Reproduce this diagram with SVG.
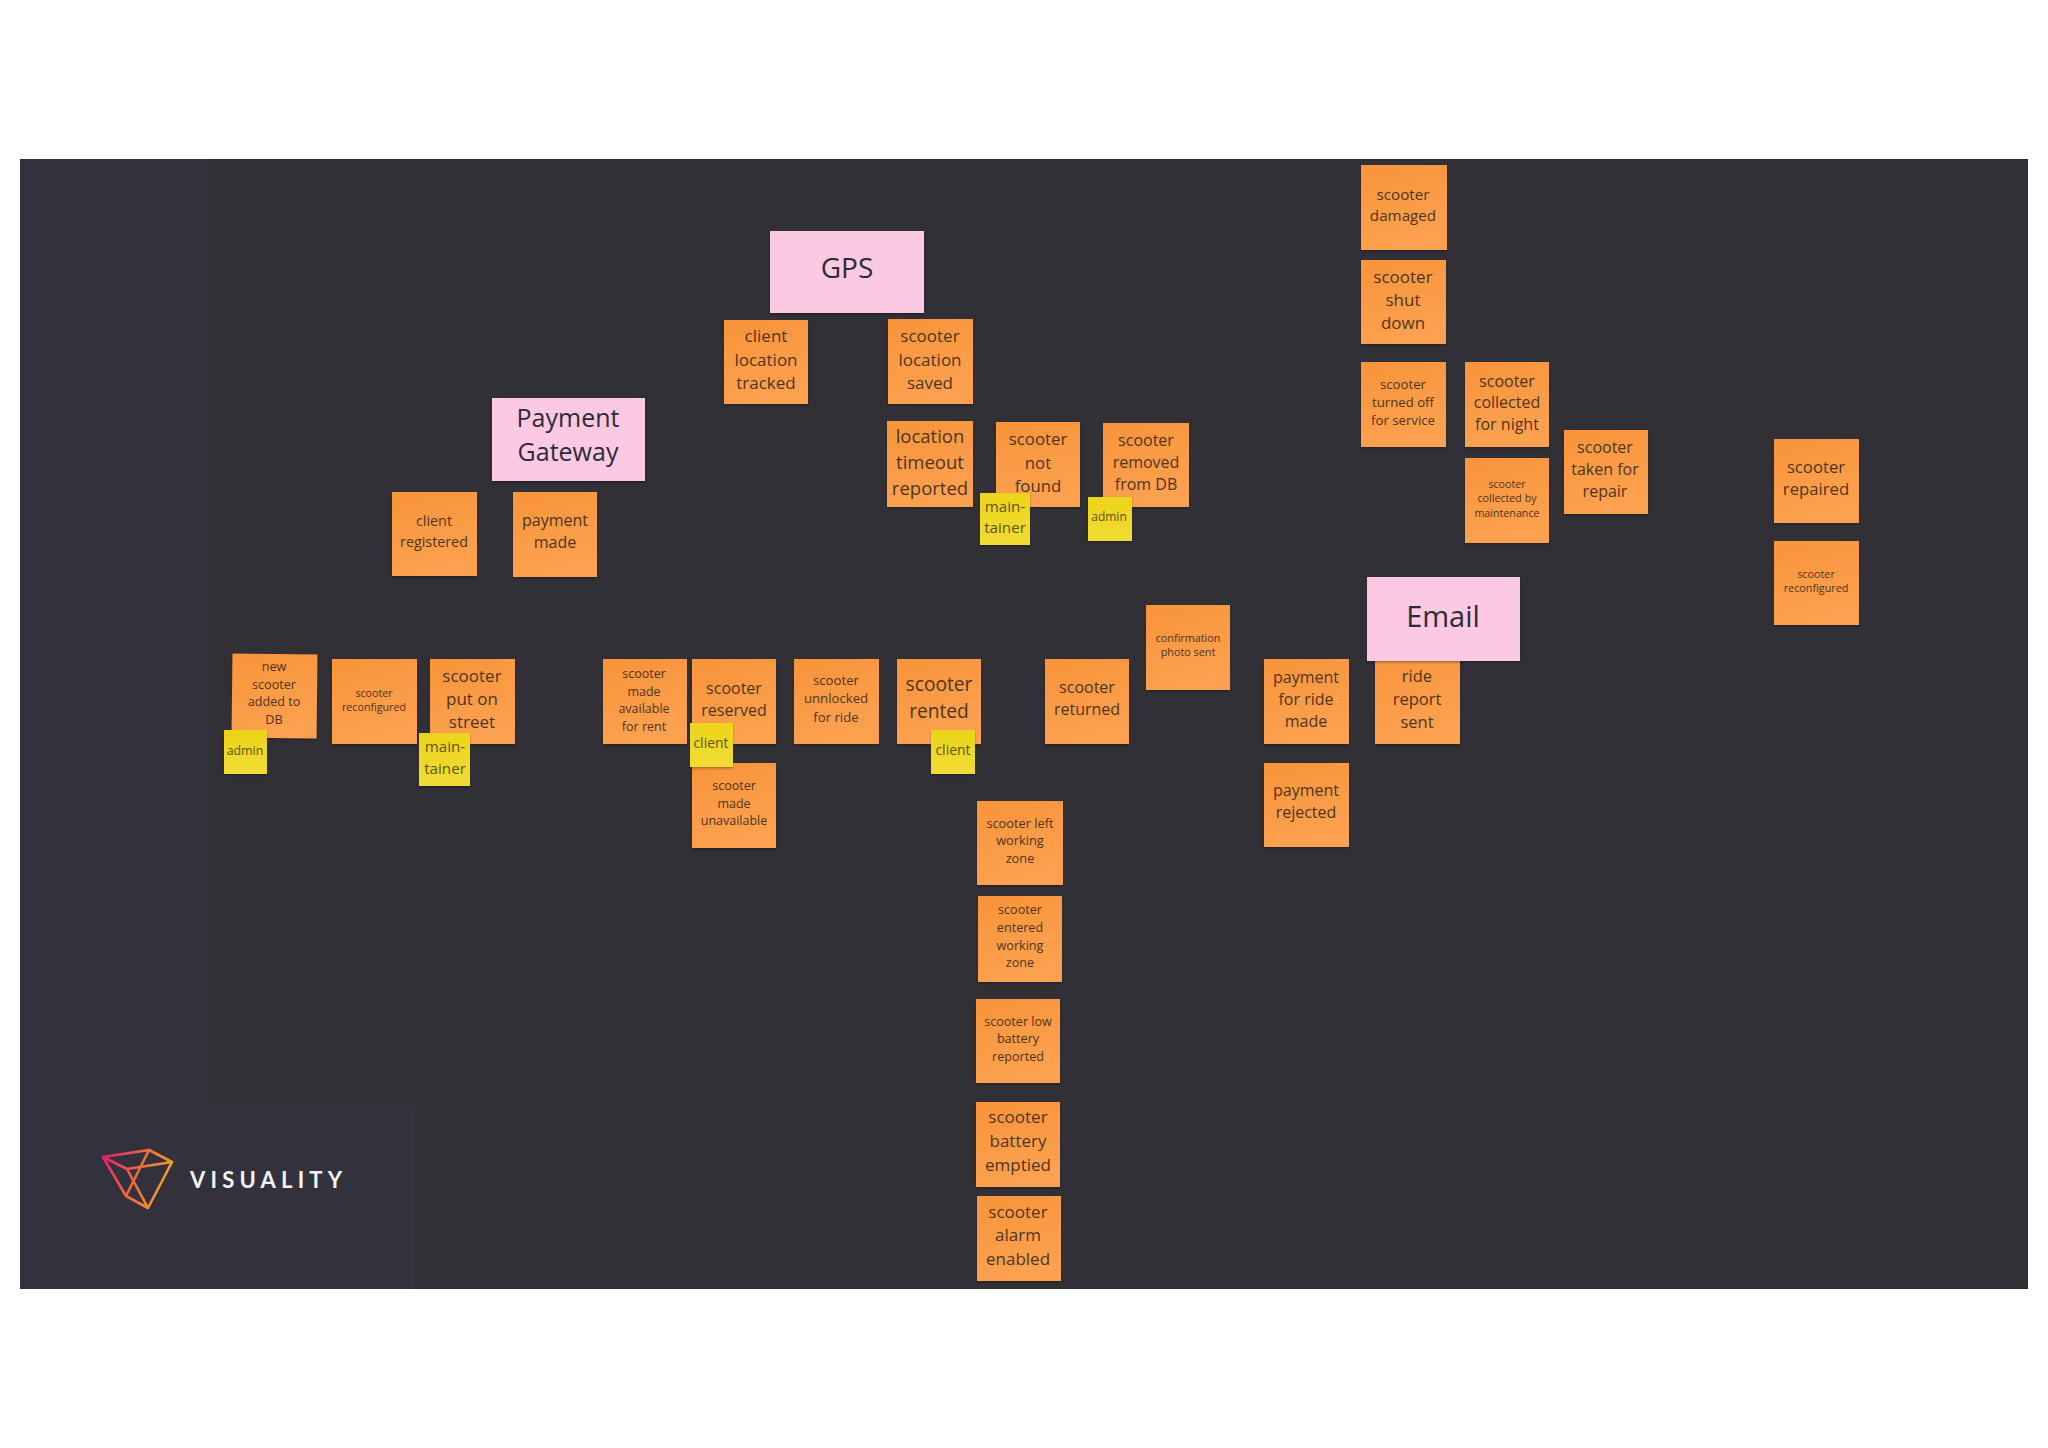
<svg xmlns="http://www.w3.org/2000/svg" width="2048" height="1448" viewBox="0 0 2048 1448">
<style>
text{font-family:"Open Sans","Noto Sans","Liberation Sans",sans-serif;text-anchor:middle;fill:#4f351f}
.o{fill:url(#og);filter:url(#sh)}
.y{fill:url(#yg);filter:url(#sh)}
.p{fill:#fbc9e1;filter:url(#sh)}
.yt{fill:#5e5510}
.pt{fill:#2f2b36}
</style>
<defs>
<linearGradient id="og" x1="0" y1="0" x2="0.3" y2="1"><stop offset="0" stop-color="#f8943a"/><stop offset="1" stop-color="#fca150"/></linearGradient>
<linearGradient id="yg" x1="0" y1="0" x2="0" y2="1"><stop offset="0" stop-color="#ecd41a"/><stop offset="1" stop-color="#f1dc34"/></linearGradient>
<linearGradient id="lg" gradientUnits="userSpaceOnUse" x1="103" y1="1157" x2="173" y2="1180"><stop offset="0" stop-color="#e6206e"/><stop offset="0.5" stop-color="#f0683f"/><stop offset="1" stop-color="#f6a62c"/></linearGradient>
<filter id="sh" x="-10%" y="-10%" width="120%" height="125%"><feDropShadow dx="0" dy="1.5" stdDeviation="1.2" flood-color="#000" flood-opacity="0.3"/></filter>
</defs>
<rect width="2048" height="1448" fill="#fff"/>
<rect x="20" y="159" width="2008" height="1130" fill="#323037"/>
<path d="M20 159H208V1105H415V1289H20Z" fill="#33323c"/>
<g id="connectors"/>
<g id="logo"><path d="M103 1157L149 1150L172 1162L148 1208L126 1196ZM103 1157L127 1169L172 1162M149 1150L126 1196M127 1169L148 1208" fill="none" stroke="url(#lg)" stroke-width="2.6" stroke-linejoin="round"/><text x="266" y="1188" font-size="22" font-weight="700" textLength="152" style="font-family:Lato,'Liberation Sans',sans-serif;fill:#f2f2f4">VISUALITY</text></g>

<g id="n-ride-report"><rect class="o" x="1375" y="640" width="85" height="104"/><text font-size="16.5"><tspan x="1417" y="682">ride</tspan><tspan x="1417" y="705">report</tspan><tspan x="1417" y="728">sent</tspan></text></g>
<g id="n-gps"><rect class="p" x="770" y="231" width="154" height="82"/><text class="pt" font-size="28"><tspan x="847" y="278">GPS</tspan></text></g>
<g id="n-payment-gateway"><rect class="p" x="492" y="398" width="153" height="83"/><text class="pt" font-size="25"><tspan x="568" y="427">Payment</tspan><tspan x="568" y="461">Gateway</tspan></text></g>
<g id="n-email"><rect class="p" x="1367" y="577" width="153" height="84"/><text class="pt" font-size="29"><tspan x="1443" y="627">Email</tspan></text></g>

<g id="n-damaged"><rect class="o" x="1361" y="165" width="86" height="85"/><text font-size="15.2"><tspan x="1403" y="200">scooter</tspan><tspan x="1403" y="221">damaged</tspan></text></g>
<g id="n-shut-down"><rect class="o" x="1361" y="260" width="85" height="84"/><text font-size="17"><tspan x="1403" y="283">scooter</tspan><tspan x="1403" y="306">shut</tspan><tspan x="1403" y="329">down</tspan></text></g>
<g id="n-turned-off"><rect class="o" x="1361" y="362" width="85" height="85"/><text font-size="13.2"><tspan x="1403" y="389">scooter</tspan><tspan x="1403" y="407">turned off</tspan><tspan x="1403" y="425">for service</tspan></text></g>
<g id="n-collected-night"><rect class="o" x="1465" y="362" width="84" height="85"/><text font-size="16"><tspan x="1507" y="387">scooter</tspan><tspan x="1507" y="408">collected</tspan><tspan x="1507" y="430">for night</tspan></text></g>
<g id="n-collected-maint"><rect class="o" x="1465" y="458" width="84" height="85"/><text font-size="10.7"><tspan x="1507" y="488">scooter</tspan><tspan x="1507" y="502">collected by</tspan><tspan x="1507" y="517">maintenance</tspan></text></g>
<g id="n-taken-repair"><rect class="o" x="1564" y="430" width="84" height="84"/><text font-size="16"><tspan x="1605" y="453">scooter</tspan><tspan x="1605" y="475">taken for</tspan><tspan x="1605" y="497">repair</tspan></text></g>
<g id="n-repaired"><rect class="o" x="1774" y="439" width="85" height="84"/><text font-size="16.7"><tspan x="1816" y="473">scooter</tspan><tspan x="1816" y="495">repaired</tspan></text></g>
<g id="n-reconfigured-2"><rect class="o" x="1774" y="541" width="85" height="84"/><text font-size="10.8"><tspan x="1816" y="578">scooter</tspan><tspan x="1816" y="592">reconfigured</tspan></text></g>

<g id="n-client-location"><rect class="o" x="724" y="320" width="84" height="84"/><text font-size="17"><tspan x="766" y="342">client</tspan><tspan x="766" y="366">location</tspan><tspan x="766" y="389">tracked</tspan></text></g>
<g id="n-scooter-location"><rect class="o" x="888" y="319" width="85" height="85"/><text font-size="17"><tspan x="930" y="342">scooter</tspan><tspan x="930" y="366">location</tspan><tspan x="930" y="389">saved</tspan></text></g>
<g id="n-location-timeout"><rect class="o" x="887" y="421" width="86" height="86"/><text font-size="18.5"><tspan x="930" y="443">location</tspan><tspan x="930" y="469">timeout</tspan><tspan x="930" y="495">reported</tspan></text></g>
<g id="n-not-found"><rect class="o" x="996" y="422" width="84" height="85"/><text font-size="16.8"><tspan x="1038" y="445">scooter</tspan><tspan x="1038" y="469">not</tspan><tspan x="1038" y="492">found</tspan></text></g>
<g id="n-removed"><rect class="o" x="1103" y="423" width="86" height="84"/><text font-size="16"><tspan x="1146" y="446">scooter</tspan><tspan x="1146" y="468">removed</tspan><tspan x="1146" y="490">from DB</tspan></text></g>
<g id="n-maintainer-1"><rect class="y" x="980" y="493" width="50" height="52"/><text class="yt" font-size="15.2"><tspan x="1005" y="512">main-</tspan><tspan x="1005" y="533">tainer</tspan></text></g>
<g id="n-admin-1"><rect class="y" x="1088" y="497" width="44" height="44"/><text class="yt" font-size="12"><tspan x="1109" y="521">admin</tspan></text></g>

<g id="n-client-registered"><rect class="o" x="392" y="492" width="85" height="84"/><text font-size="14.3"><tspan x="434" y="526">client</tspan><tspan x="434" y="547">registered</tspan></text></g>
<g id="n-payment-made"><rect class="o" x="513" y="492" width="84" height="85"/><text font-size="16"><tspan x="555" y="526">payment</tspan><tspan x="555" y="548">made</tspan></text></g>

<g id="n-new-scooter"><rect class="o" x="232" y="654" width="85" height="84" transform="rotate(0.6 274 696)"/><text font-size="12.6"><tspan x="274" y="671">new</tspan><tspan x="274" y="689">scooter</tspan><tspan x="274" y="706">added to</tspan><tspan x="274" y="724">DB</tspan></text></g>
<g id="n-reconfigured-1"><rect class="o" x="332" y="659" width="85" height="85"/><text font-size="10.7"><tspan x="374" y="697">scooter</tspan><tspan x="374" y="711">reconfigured</tspan></text></g>
<g id="n-put-on-street"><rect class="o" x="430" y="659" width="85" height="85"/><text font-size="17"><tspan x="472" y="682">scooter</tspan><tspan x="472" y="705">put on</tspan><tspan x="472" y="728">street</tspan></text></g>
<g id="n-admin-2"><rect class="y" x="224" y="730" width="43" height="44"/><text class="yt" font-size="12.4"><tspan x="245" y="755">admin</tspan></text></g>
<g id="n-maintainer-2"><rect class="y" x="419" y="733" width="51" height="53"/><text class="yt" font-size="15.2"><tspan x="445" y="752">main-</tspan><tspan x="445" y="774">tainer</tspan></text></g>

<g id="n-made-available"><rect class="o" x="603" y="659" width="84" height="85"/><text font-size="12.5"><tspan x="644" y="678">scooter</tspan><tspan x="644" y="696">made</tspan><tspan x="644" y="713">available</tspan><tspan x="644" y="731">for rent</tspan></text></g>
<g id="n-reserved"><rect class="o" x="692" y="659" width="84" height="85"/><text font-size="16"><tspan x="734" y="694">scooter</tspan><tspan x="734" y="716">reserved</tspan></text></g>
<g id="n-made-unavailable"><rect class="o" x="692" y="763" width="84" height="85"/><text font-size="12.5"><tspan x="734" y="790">scooter</tspan><tspan x="734" y="808">made</tspan><tspan x="734" y="825">unavailable</tspan></text></g>
<g id="n-client-1"><rect class="y" x="690" y="723" width="43" height="44"/><text class="yt" font-size="14"><tspan x="711" y="748">client</tspan></text></g>
<g id="n-unlocked"><rect class="o" x="794" y="659" width="85" height="85"/><text font-size="13.2"><tspan x="836" y="685">scooter</tspan><tspan x="836" y="703">unnlocked</tspan><tspan x="836" y="722">for ride</tspan></text></g>
<g id="n-rented"><rect class="o" x="897" y="659" width="84" height="85"/><text font-size="19.2"><tspan x="939" y="691">scooter</tspan><tspan x="939" y="718">rented</tspan></text></g>
<g id="n-client-2"><rect class="y" x="931" y="730" width="44" height="44"/><text class="yt" font-size="14"><tspan x="953" y="755">client</tspan></text></g>
<g id="n-returned"><rect class="o" x="1045" y="659" width="84" height="85"/><text font-size="16"><tspan x="1087" y="693">scooter</tspan><tspan x="1087" y="715">returned</tspan></text></g>
<g id="n-confirmation"><rect class="o" x="1146" y="605" width="84" height="85"/><text font-size="10.8"><tspan x="1188" y="642">confirmation</tspan><tspan x="1188" y="656">photo sent</tspan></text></g>
<g id="n-payment-ride"><rect class="o" x="1264" y="659" width="85" height="85"/><text font-size="16"><tspan x="1306" y="683">payment</tspan><tspan x="1306" y="705">for ride</tspan><tspan x="1306" y="727">made</tspan></text></g>
<g id="n-payment-rejected"><rect class="o" x="1264" y="763" width="85" height="84"/><text font-size="16"><tspan x="1306" y="796">payment</tspan><tspan x="1306" y="818">rejected</tspan></text></g>

<g id="n-left-zone"><rect class="o" x="977" y="801" width="86" height="84"/><text font-size="12.8"><tspan x="1020" y="828">scooter left</tspan><tspan x="1020" y="845">working</tspan><tspan x="1020" y="863">zone</tspan></text></g>
<g id="n-entered-zone"><rect class="o" x="978" y="896" width="84" height="86"/><text font-size="12.6"><tspan x="1020" y="914">scooter</tspan><tspan x="1020" y="932">entered</tspan><tspan x="1020" y="950">working</tspan><tspan x="1020" y="967">zone</tspan></text></g>
<g id="n-low-battery"><rect class="o" x="976" y="999" width="84" height="84"/><text font-size="12.6"><tspan x="1018" y="1026">scooter low</tspan><tspan x="1018" y="1043">battery</tspan><tspan x="1018" y="1061">reported</tspan></text></g>
<g id="n-emptied"><rect class="o" x="976" y="1102" width="84" height="85"/><text font-size="17"><tspan x="1018" y="1123">scooter</tspan><tspan x="1018" y="1147">battery</tspan><tspan x="1018" y="1171">emptied</tspan></text></g>
<g id="n-alarm"><rect class="o" x="977" y="1196" width="84" height="85"/><text font-size="17"><tspan x="1018" y="1218">scooter</tspan><tspan x="1018" y="1241">alarm</tspan><tspan x="1018" y="1265">enabled</tspan></text></g>
</svg>
